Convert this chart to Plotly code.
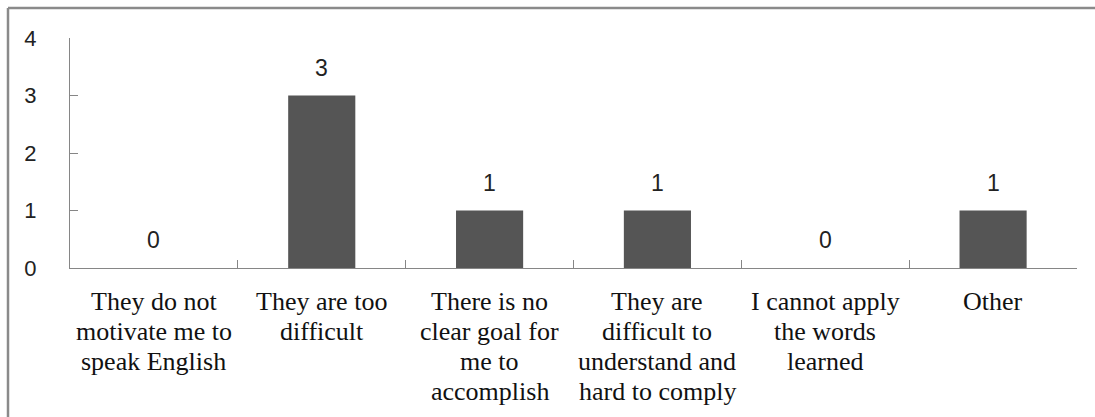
import plotly.graph_objects as go

# Survey responses: reasons given
categories = [
    "They do not<br>motivate me to<br>speak English",
    "They are too<br>difficult",
    "There is no<br>clear goal for<br>me to<br>accomplish",
    "They are<br>difficult to<br>understand and<br>hard to comply",
    "I cannot apply<br>the words<br>learned",
    "Other",
]
counts = [0, 3, 1, 1, 0, 1]
y_ticks = [0, 1, 2, 3, 4]

W, H = 1095, 417
ml, mr, mt, mb = 70, 18, 38, 149
pw, ph = W - ml - mr, H - mt - mb

axis_col = "#868686"
sans = "Liberation Sans"
serif = "Liberation Serif, serif"
label_size = 26
line_step = 30
label_gap = 17

fig = go.Figure()
fig.add_trace(go.Bar(
    x=categories,
    y=counts,
    width=0.4,
    marker=dict(color="#555555", line=dict(width=0)),
    hoverinfo="skip",
))

# value labels above each bar
for c, v in zip(categories, counts):
    fig.add_annotation(
        x=c, y=v, text=str(v), showarrow=False,
        yanchor="bottom", yshift=13,
        font=dict(family=sans, size=23, color="#222222"),
    )

# category labels below the axis, one annotation per text line
for c in categories:
    for k, part in enumerate(c.split("<br>")):
        fig.add_annotation(
            x=c, xref="x", y=0, yref="paper",
            text="<span style='font-family:Liberation Serif,serif'>" + part + "</span>",
            showarrow=False,
            yanchor="top", yshift=-(label_gap + k * line_step),
            font=dict(family=serif, size=label_size, color="#111111"),
        )

fig.update_xaxes(
    type="category",
    showline=True, linecolor=axis_col, linewidth=1,
    ticks="inside", tickson="boundaries", ticklen=8, tickcolor=axis_col,
    showgrid=False, zeroline=False,
    showticklabels=False,
)
fig.update_yaxes(
    range=[0, 4],
    tickmode="array", tickvals=y_ticks,
    showline=True, linecolor=axis_col, linewidth=1,
    ticks="inside", ticklen=8, tickcolor=axis_col,
    showgrid=False, zeroline=False,
    tickfont=dict(family=sans, size=22, color="#222222"),
    ticklabelstandoff=28,
)

# outer frame: top and left edges
left_x = (8 - ml) / pw
top_y = 1 + (mt - 8) / ph
fig.add_shape(type="line", xref="paper", yref="paper",
              x0=left_x, x1=(W - ml) / pw + 0.01, y0=top_y, y1=top_y,
              line=dict(color="#8a8a8a", width=2.5))
fig.add_shape(type="line", xref="paper", yref="paper",
              x0=left_x, x1=left_x, y0=top_y, y1=-(mb + 5) / ph,
              line=dict(color="#8a8a8a", width=2.5))

fig.update_layout(
    width=W, height=H,
    font=dict(family=serif),
    margin=dict(l=ml, r=mr, t=mt, b=mb, pad=0, autoexpand=False),
    paper_bgcolor="white", plot_bgcolor="white",
    showlegend=False,
    bargap=0.6,
)

fig.write_html("out.html")
